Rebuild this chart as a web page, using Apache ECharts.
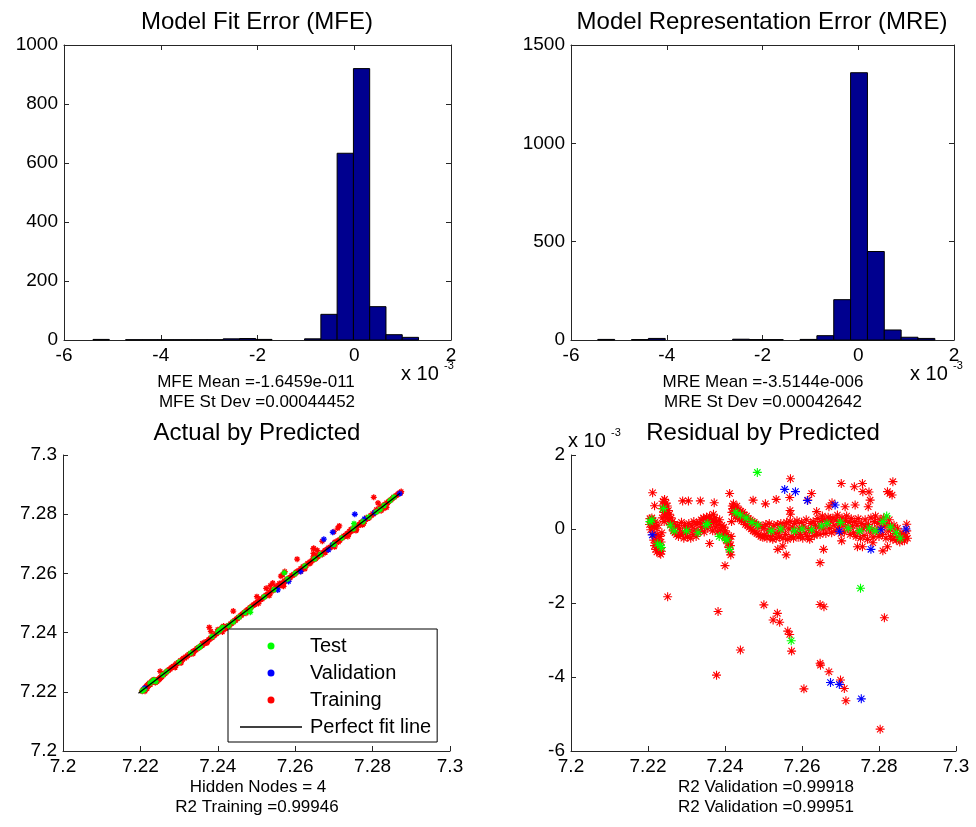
<!DOCTYPE html>
<html>
<head>
<meta charset="utf-8">
<script src="https://cdn.jsdelivr.net/npm/echarts@6/dist/echarts.min.js"></script>
<style>
  html, body { margin: 0; padding: 0; background: #fff; }
  #chart { width: 976px; height: 827px; }
</style>
</head>
<body>
<div id="chart"></div>
<script>
// ---------- Histogram of model fit error (units of 1e-3) ----------
const mfeEdges = [-5.400, -5.064, -4.727, -4.391, -4.054, -3.718, -3.382, -3.045, -2.709, -2.372,
                  -2.036, -1.700, -1.363, -1.027, -0.690, -0.354, -0.017, 0.319, 0.656, 0.992, 1.329];
const mfeCounts = [2, 0, 1, 1, 1, 1, 1, 1, 4, 5, 2, 0, 0, 4, 87, 633, 920, 113, 18, 9];

// ---------- Histogram of model representation error (units of 1e-3) ----------
const mreEdges = [-5.440, -5.088, -4.736, -4.384, -4.032, -3.680, -3.328, -2.976, -2.624, -2.272,
                  -1.920, -1.568, -1.216, -0.864, -0.512, -0.160, 0.192, 0.544, 0.896, 1.248, 1.600];
const mreCounts = [3, 0, 2, 8, 0, 0, 0, 0, 4, 2, 2, 0, 3, 22, 205, 1359, 450, 51, 14, 8];

// ---------- Axis tick settings ----------
const histXTicks = { min: -6, max: 2, interval: 2 };
const mfeYTicks = { min: 0, max: 1000, interval: 200 };
const mreYTicks = { min: 0, max: 1500, interval: 500 };
const predTicks = { min: 7.2, max: 7.3, interval: 0.02 };
const residTicks = { min: -6, max: 2, interval: 2 };

// ---------- Residuals: [predicted, residual x 1e-3] ----------
const trainBand = [
  [7.2204,0.12],[7.2205,0.28],[7.2207,-0.02],[7.2208,0.20],[7.2210,0.30],[7.2211,0.08],[7.2213,-0.15],[7.2213,0.22],
  [7.2215,-0.30],[7.2216,0.05],[7.2217,-0.45],[7.2218,0.18],[7.2219,-0.20],[7.2220,-0.55],[7.2221,0.02],[7.2222,-0.35],
  [7.2223,-0.62],[7.2224,-0.15],[7.2225,-0.48],[7.2226,0.10],[7.2227,-0.30],[7.2228,-0.58],[7.2229,-0.40],[7.2230,-0.65],
  [7.2231,-0.20],[7.2232,-0.52],[7.2233,-0.68],[7.2234,-0.35],
  [7.2235,-0.60],[7.2236,-0.10],[7.2237,0.30],[7.2238,0.55],[7.2239,0.75],[7.2240,0.65],[7.2241,0.45],[7.2242,0.20],
  [7.2243,0.80],[7.2244,0.60],[7.2245,0.35],
  [7.2247,0.70],[7.2248,0.45],[7.2250,0.62],[7.2251,0.30],[7.2253,0.50],[7.2255,0.22],[7.2256,0.40],[7.2258,0.12],
  [7.2260,0.30],[7.2262,0.05],[7.2264,0.20],[7.2266,-0.05],[7.2268,0.12],[7.2270,-0.10],[7.2272,0.05],[7.2274,-0.15],
  [7.2277,0.10],[7.2279,-0.20],[7.2282,0.02],[7.2285,-0.15],[7.2287,0.18],[7.2290,-0.08],[7.2293,-0.25],[7.2295,0.10],
  [7.2298,-0.12],[7.2301,0.05],[7.2303,-0.22],[7.2306,0.15],[7.2309,-0.05],[7.2311,-0.25],[7.2314,0.08],[7.2317,-0.15],
  [7.2319,0.20],[7.2322,-0.02],[7.2325,-0.20],[7.2327,0.12],[7.2330,-0.08],[7.2333,0.18],
  [7.2336,-0.05],[7.2338,0.25],[7.2341,0.05],[7.2344,0.30],[7.2346,-0.08],[7.2349,0.15],[7.2352,0.32],[7.2354,0.02],
  [7.2357,0.22],[7.2360,0.35],[7.2362,0.08],[7.2365,0.25],[7.2368,-0.05],[7.2370,0.18],[7.2373,0.30],[7.2376,0.05],
  [7.2378,0.20],[7.2381,-0.08],[7.2384,0.12],[7.2386,0.25],[7.2389,-0.02],[7.2392,0.10],[7.2394,-0.15],
  [7.2397,0.05],[7.2399,-0.20],[7.2401,-0.05],[7.2403,-0.30],[7.2405,-0.15],[7.2407,-0.40],[7.2409,-0.25],[7.2410,-0.50],
  [7.2412,-0.35],[7.2413,-0.62],[7.2414,-0.45],[7.2415,-0.70],
  [7.2416,-0.20],[7.2417,0.20],[7.2418,0.45],[7.2419,0.62],[7.2420,0.55],
  [7.2422,0.68],[7.2424,0.40],[7.2426,0.58],[7.2428,0.35],[7.2431,0.62],[7.2433,0.30],[7.2436,0.52],[7.2438,0.28],
  [7.2441,0.48],[7.2443,0.22],[7.2446,0.45],[7.2448,0.20],[7.2451,0.38],[7.2453,0.12],[7.2456,0.35],[7.2458,0.10],
  [7.2461,0.28],[7.2463,0.05],[7.2466,0.25],[7.2468,0.00],[7.2471,0.20],[7.2473,-0.05],[7.2476,0.18],[7.2478,-0.08],
  [7.2481,0.12],[7.2483,-0.12],[7.2486,0.10],[7.2488,-0.15],[7.2491,0.05],[7.2493,-0.20],[7.2496,0.08],[7.2498,-0.22],
  [7.2501,0.02],[7.2503,-0.18],
  [7.2506,0.12],[7.2509,-0.25],[7.2512,-0.05],[7.2515,0.15],[7.2518,-0.20],[7.2521,0.00],[7.2524,-0.28],[7.2527,0.10],
  [7.2530,-0.12],[7.2533,-0.25],[7.2536,0.12],[7.2539,-0.08],[7.2542,-0.22],[7.2545,0.15],[7.2548,-0.02],[7.2551,-0.25],
  [7.2554,0.08],[7.2557,-0.15],[7.2560,0.18],[7.2563,-0.28],[7.2566,0.00],
  [7.2569,0.20],[7.2572,-0.20],[7.2575,0.05],[7.2578,-0.25],[7.2581,0.15],[7.2584,-0.08],[7.2587,0.22],[7.2590,-0.22],
  [7.2593,0.02],[7.2596,-0.15],[7.2599,0.18],[7.2602,-0.25],[7.2605,0.08],[7.2608,-0.10],[7.2611,0.25],[7.2614,-0.20],
  [7.2617,0.00],[7.2620,-0.28],[7.2623,0.15],[7.2626,-0.05],[7.2629,0.20],[7.2632,-0.18],[7.2635,0.10],
  [7.2638,-0.10],[7.2641,0.28],[7.2644,0.05],[7.2647,-0.15],[7.2650,0.20],[7.2653,0.35],[7.2656,0.00],[7.2659,0.25],
  [7.2662,-0.12],[7.2665,0.15],[7.2668,0.32],[7.2671,0.02],[7.2674,0.22],[7.2677,-0.10],[7.2680,0.30],[7.2683,0.10],
  [7.2686,-0.05],[7.2689,0.25],[7.2692,0.38],[7.2695,0.05],[7.2698,0.20],[7.2701,-0.12],[7.2704,0.30],[7.2707,0.10],
  [7.2710,-0.08],[7.2713,0.22],[7.2716,0.35],[7.2719,0.00],[7.2722,0.18],[7.2725,-0.15],[7.2728,0.28],[7.2731,0.08],
  [7.2734,-0.10],[7.2737,0.20],
  [7.2740,-0.20],[7.2743,0.10],[7.2746,0.28],[7.2749,-0.05],[7.2752,-0.25],[7.2755,0.15],[7.2758,0.02],[7.2761,-0.18],
  [7.2764,0.25],[7.2767,0.05],[7.2770,-0.28],[7.2773,0.12],[7.2776,-0.08],[7.2779,0.30],[7.2782,0.00],[7.2785,-0.22],
  [7.2788,0.20],[7.2791,0.35],[7.2794,-0.05],[7.2797,0.15],[7.2800,-0.20],[7.2803,0.25],[7.2806,0.05],[7.2809,-0.15],
  [7.2812,0.30],[7.2815,0.10],
  [7.2818,-0.25],[7.2821,0.15],[7.2824,-0.05],[7.2827,0.25],[7.2830,-0.20],[7.2833,0.05],[7.2836,-0.28],[7.2839,0.10],
  [7.2842,-0.12],[7.2845,-0.30],[7.2848,0.02],[7.2851,-0.22],[7.2854,-0.35],[7.2857,-0.10],[7.2860,-0.28],[7.2863,-0.15],
  [7.2866,-0.32],[7.2869,-0.20],[7.2872,-0.05],[7.2874,-0.25]
];
const trainOutliers = [
  [7.2212,0.98],[7.2217,0.63],[7.2251,-1.83],[7.2290,0.76],[7.2305,0.76],[7.2336,0.76],[7.2360,-0.39],[7.2372,0.71],
  [7.2370,0.40],[7.2382,-2.23],[7.2378,-3.95],[7.2400,-0.99],[7.2412,0.96],[7.2440,-3.27],[7.2473,0.78],[7.2501,-2.05],
  [7.2505,0.68],[7.2525,-2.46],[7.2536,-2.28],[7.2542,-2.52],[7.2533,0.80],[7.2537,-0.55],[7.2550,-0.46],[7.2559,-0.70],
  [7.2563,-2.76],[7.2568,-2.85],[7.2570,1.36],[7.2568,0.85],[7.2569,0.50],[7.2570,0.40],[7.2573,-3.30],[7.2605,-4.32],
  [7.2625,0.96],[7.2615,0.78],[7.2638,0.47],[7.2647,-0.91],[7.2647,-2.04],[7.2657,-2.10],[7.2656,-0.55],[7.2647,-3.63],
  [7.2648,-3.68],[7.2670,-3.86],[7.2670,0.60],[7.2678,0.71],[7.2702,1.23],[7.2700,-4.08],[7.2710,-4.31],[7.2714,-4.64],
  [7.2703,-0.32],[7.2712,0.60],[7.2736,1.14],[7.2738,0.65],[7.2744,-0.48],[7.2757,1.23],[7.2757,-0.48],[7.2758,1.01],
  [7.2774,1.00],[7.2777,0.78],[7.2772,0.60],[7.2784,-0.37],[7.2803,-5.41],[7.2810,-0.59],[7.2814,-2.40],[7.2822,1.01],
  [7.2828,0.96],[7.2834,0.92],[7.2836,1.28],[7.2822,-0.48],[7.2872,0.13]
];
const testPoints = [
  [7.2205,0.20],[7.2210,0.25],[7.2225,-0.40],[7.2232,-0.45],[7.2235,-0.50],[7.2240,0.55],[7.2258,0.10],[7.2268,-0.05],
  [7.2300,-0.05],[7.2330,-0.10],[7.2350,0.10],[7.2355,0.15],[7.2385,-0.20],[7.2400,-0.25],[7.2405,-0.30],[7.2412,-0.55],
  [7.2428,0.45],[7.2440,0.38],[7.2455,0.30],[7.2470,0.18],[7.2485,0.10],[7.2520,-0.05],[7.2545,0.00],[7.2580,-0.05],
  [7.2600,0.00],[7.2625,-0.02],[7.2650,0.08],[7.2665,0.15],[7.2700,0.18],[7.2720,0.02],[7.2750,-0.05],[7.2775,0.02],
  [7.2790,-0.05],[7.2810,0.20],[7.2820,0.35],[7.2830,0.05],[7.2845,-0.10],[7.2855,-0.25],
  [7.2484,1.53],[7.2752,-1.60],[7.2572,-3.02]
];
const validationPoints = [
  [7.2211,-0.16],[7.2555,1.07],[7.2583,1.01],[7.2614,0.77],[7.2686,0.65],[7.2697,-0.06],[7.2779,-0.55],
  [7.2674,-4.15],[7.2697,-4.20],[7.2754,-4.59],[7.2870,0.00],[7.2805,-0.02]
];
// ends of the perfect-fit line (min and max prediction)
const fitLine = [7.2195, 7.2871];

// ---------- Styling ----------
const FONT = "'Liberation Sans', Arial, Helvetica, sans-serif";
const AX = '#262626';
const BAR = '#00008f';
const STAR = 'path://M0 5L10 5M5 0L5 10M1.5 1.5L8.5 8.5M8.5 1.5L1.5 8.5';
const DASH = 'path://M0 0H62V1.3H0Z';

function axis(gridIndex, position, ticks, showLabel, fmt) {
  return {
    type: 'value', gridIndex, position,
    min: ticks.min, max: ticks.max, interval: ticks.interval,
    axisLine: { show: true, onZero: false, lineStyle: { color: AX, width: 1 } },
    axisTick: { show: true, inside: true, length: 5, lineStyle: { color: AX, width: 1 } },
    axisLabel: { show: showLabel, color: '#000', fontSize: 19, fontFamily: FONT, margin: 6,
                 showMinLabel: true, showMaxLabel: true, formatter: fmt },
    splitLine: { show: false }, splitArea: { show: false }
  };
}
const intFmt = v => String(Math.round(v));
const predFmt = v => String(+v.toFixed(2));

function histSeries(edges, counts, idx) {
  const data = counts.map((c, i) => [edges[i], edges[i + 1], c]);
  return {
    type: 'custom', xAxisIndex: idx, yAxisIndex: idx, data, silent: true,
    encode: { x: [0, 1], y: 2 },
    renderItem: (params, api) => {
      if (api.value(2) <= 0) return null;
      const p0 = api.coord([api.value(0), api.value(2)]);
      const p1 = api.coord([api.value(1), 0]);
      return {
        type: 'rect',
        shape: { x: p0[0], y: p0[1], width: p1[0] - p0[0], height: p1[1] - p0[1] },
        style: { fill: BAR, stroke: '#000', lineWidth: 1 }
      };
    }
  };
}

function scatter(name, data, color, idx, size, width, z) {
  return {
    type: 'scatter', name, data, xAxisIndex: idx, yAxisIndex: idx,
    symbol: STAR, symbolSize: size, silent: true, z,
    itemStyle: { color, borderColor: color, borderWidth: width, opacity: 1 },
    emphasis: { disabled: true }
  };
}

// actual value = prediction minus residual
const toActual = pts => pts.map(p => [p[0], +(p[0] - p[1] / 1000).toFixed(5)]);
const trainAll = trainBand.concat(trainOutliers);

const txt = (text, x, y, size, align) => ({
  type: 'text', x, y, silent: true,
  style: { text, fill: '#000', font: `${size}px ${FONT}`, textAlign: align || 'center', textVerticalAlign: 'middle', verticalAlign: 'middle' }
});
// "x 10^-3" axis multiplier
const sci = (x, y) => [txt('x 10', x, y, 20, 'left'), txt('-3', x + 43, y - 8, 11, 'left')];

const option = {
  animation: false,
  backgroundColor: '#fff',
  textStyle: { fontFamily: FONT },
  grid: [
    { left: 64, top: 45, width: 387, height: 295, containLabel: false, outerBoundsMode: 'none' },
    { left: 571, top: 45, width: 383, height: 295, containLabel: false, outerBoundsMode: 'none' },
    { left: 63, top: 455, width: 387, height: 296, containLabel: false, outerBoundsMode: 'none' },
    { left: 571, top: 455, width: 385, height: 296, containLabel: false, outerBoundsMode: 'none' }
  ],
  xAxis: [
    axis(0, 'bottom', histXTicks, true, intFmt),
    axis(1, 'bottom', histXTicks, true, intFmt),
    axis(2, 'bottom', predTicks, true, predFmt),
    axis(3, 'bottom', predTicks, true, predFmt),
    axis(0, 'top', histXTicks, false),
    axis(1, 'top', histXTicks, false)
  ],
  yAxis: [
    axis(0, 'left', mfeYTicks, true, intFmt),
    axis(1, 'left', mreYTicks, true, intFmt),
    axis(2, 'left', predTicks, true, predFmt),
    axis(3, 'left', residTicks, true, intFmt),
    axis(0, 'right', mfeYTicks, false),
    axis(1, 'right', mreYTicks, false)
  ],
  legend: {
    orient: 'vertical', left: 228, top: 629,
    data: [
      { name: 'Test', icon: 'circle' },
      { name: 'Validation', icon: 'circle' },
      { name: 'Training', icon: 'circle' },
      { name: 'Perfect fit line', icon: DASH }
    ],
    itemWidth: 62, itemHeight: 5, itemGap: 7,
    textStyle: { fontSize: 20, color: '#000', fontFamily: FONT, padding: [0, 0, 0, 3] },
    backgroundColor: '#fff', borderColor: '#000', borderWidth: 1, borderRadius: 0,
    padding: [7, 6, 5, 12], selectedMode: false
  },
  series: [
    histSeries(mfeEdges, mfeCounts, 0),
    histSeries(mreEdges, mreCounts, 1),
    // actual by predicted
    scatter('Training', toActual(trainAll), '#ff0000', 2, 6, 1.3, 2),
    scatter('Validation', toActual(validationPoints), '#0000ff', 2, 6, 1.3, 3),
    scatter('Test', toActual(testPoints), '#00ff00', 2, 6, 1.3, 4),
    {
      type: 'line', name: 'Perfect fit line', xAxisIndex: 2, yAxisIndex: 2,
      data: [[fitLine[0], fitLine[0]], [fitLine[1], fitLine[1]]],
      symbol: 'none', silent: true, z: 5,
      lineStyle: { color: '#000', width: 1.3 }, itemStyle: { color: '#000' }
    },
    // residual by predicted
    scatter('Training', trainAll, '#ff0000', 3, 9, 1.1, 2),
    scatter('Validation', validationPoints, '#0000ff', 3, 9, 1.1, 3),
    scatter('Test', testPoints, '#00ff00', 3, 9, 1.1, 4)
  ],
  graphic: [
    txt('Model Fit Error (MFE)', 257, 22, 24),
    txt('Model Representation Error (MRE)', 762, 22, 24),
    txt('MFE Mean =-1.6459e-011', 256, 382, 17),
    txt('MFE St Dev =0.00044452', 257, 402, 17),
    txt('MRE Mean =-3.5144e-006', 763, 382, 17),
    txt('MRE St Dev =0.00042642', 763, 402, 17),
    ...sci(401, 374),
    ...sci(910, 374),
    txt('Actual by Predicted', 257, 433, 24),
    txt('Residual by Predicted', 763, 433, 24),
    ...sci(568, 441),
    txt('Hidden Nodes = 4', 258, 787, 17),
    txt('R2 Training =0.99946', 257, 807, 17),
    txt('R2 Validation =0.99918', 766, 787, 17),
    txt('R2 Validation =0.99951', 766, 807, 17)
  ]
};

const chart = echarts.init(document.getElementById('chart'), null, { renderer: 'canvas' });
chart.setOption(option);
</script>
</body>
</html>
